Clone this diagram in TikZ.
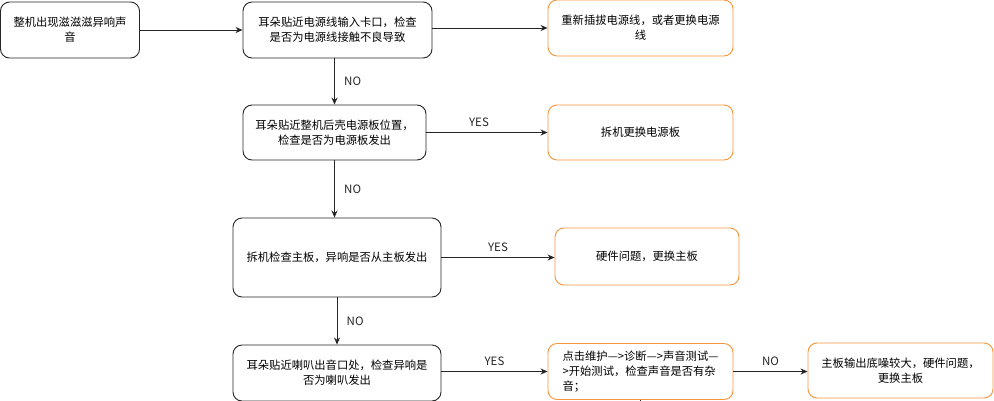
\documentclass[tikz,border=0pt]{standalone}
\usepackage{fontspec}
\setmainfont{Noto Sans CJK SC}
\usetikzlibrary{arrows.meta}
\definecolor{org}{RGB}{245,150,60}
\tikzset{
 box/.style={draw=black!85, line width=0.9pt, rounded corners=9pt, align=center, inner sep=4pt, font=\fontsize{11.3}{15}\selectfont},
 obox/.style={box, draw=org},
 arr/.style={draw=black!85, line width=0.8pt, -{Stealth[length=7pt,width=6pt]}},
 lbl/.style={font=\fontsize{11.5}{13}\selectfont, text=black!85}
}
\begin{document}
\begin{tikzpicture}[x=1pt,y=-1pt]
\useasboundingbox[fill=white] (0,0) rectangle (994,400);
\node[box, minimum width=139pt, minimum height=56pt] (A) at (70,30) {整机出现滋滋滋异响声\\音};
\node[box, minimum width=189pt, minimum height=56pt] (B) at (337.5,30) {耳朵贴近电源线输入卡口，检查\\是否为电源线接触不良导致};
\node[obox, minimum width=185pt, minimum height=56pt] (C) at (640.5,28) {重新插拔电源线，或者更换电源\\线};
\node[box, minimum width=183pt, minimum height=55pt] (D) at (334.5,132.5) {耳朵贴近整机后壳电源板位置，\\检查是否为电源板发出};
\node[obox, minimum width=185pt, minimum height=55pt] (E) at (640.5,132.5) {拆机更换电源板};
\node[box, minimum width=208pt, minimum height=79pt] (F) at (337,257.5) {拆机检查主板，异响是否从主板发出};
\node[obox, minimum width=184pt, minimum height=57pt] (G) at (647,256.5) {硬件问题，更换主板};
\node[box, minimum width=208pt, minimum height=56pt] (H) at (337,373) {耳朵贴近喇叭出音口处，检查异响是\\否为喇叭发出};
\node[obox, minimum width=185pt, minimum height=56pt, align=left] (I) at (640.5,371.5) {点击维护—>诊断—>声音测试—\\>开始测试，检查声音是否有杂\\音；};
\node[obox, minimum width=185pt, minimum height=55pt] (J) at (900.5,370.5) {主板输出底噪较大，硬件问题，\\更换主板};
\coordinate (Iout) at (640,402);
\draw[arr] (A.east) -- (B.west |- A.east);
\draw[arr] (B.east |- C.west) -- (C.west);
\draw[arr] (B.south -| D.north) -- node[lbl, right=6pt]{NO} (D.north);
\draw[arr] (D.east) -- node[lbl, above=2pt, xshift=-8pt]{YES} (E.west);
\draw[arr] (D.south) -- node[lbl, right=6pt]{NO} (D.south |- F.north);
\draw[arr] (F.east) -- node[lbl, above=2pt]{YES} (G.west |- F.east);
\draw[arr] (F.south) -- node[lbl, right=6pt]{NO} (F.south |- H.north);
\draw[arr] (H.east |- I.west) -- node[lbl, above=2pt]{YES} (I.west);
\draw[arr] (I.east) -- node[lbl, above=2pt]{NO} (J.west |- I.east);
\draw[draw=black!85, line width=0.8pt] (I.south -| Iout) -- (Iout);
\end{tikzpicture}
\end{document}
